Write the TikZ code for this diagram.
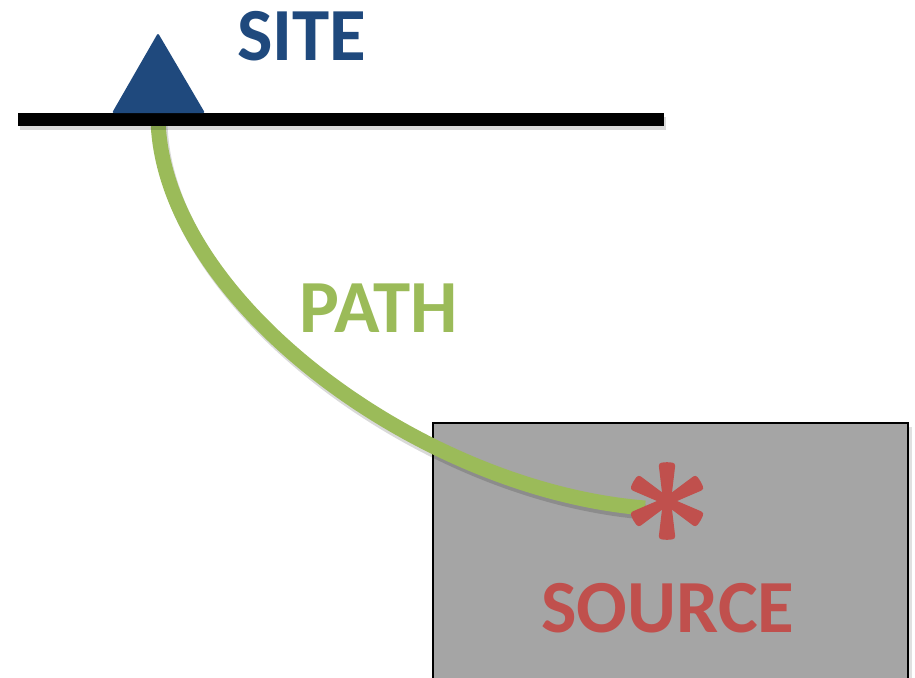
\documentclass[tikz,border=0pt]{standalone}
\usepackage{fontspec}
\setmainfont{Carlito}
\definecolor{siteblue}{HTML}{1F497D}
\definecolor{pathgreen}{HTML}{9BBB59}
\definecolor{srcred}{HTML}{C0504D}
\definecolor{boxgray}{HTML}{A5A5A5}
\tikzset{
  lbl/.style={anchor=base west, inner sep=0pt, font=\fontsize{75}{80}\selectfont\bfseries},
  ground/.style={line width=13pt, black},
  pathline/.style={line width=15pt, pathgreen},
  softshadow/.style={line width=15pt, black, opacity=0.15},
  srcbox/.style={fill=boxgray, draw=black, line width=2pt},
  armfill/.style={fill=srcred, rounded corners=3pt},
}
\begin{document}
\begin{tikzpicture}[x=1pt,y=-1pt]
\useasboundingbox (0,0) rectangle (915,677);
\clip (0,0) rectangle (915,677);
% source box (with soft shadow)
\fill[black, opacity=0.12] (437,427) rectangle (912,700);
\draw[srcbox] (433,423) rectangle (908,700);
% named points
\coordinate (gl) at (18,119);
\coordinate (gr) at (664,119);
\coordinate (sitefoot) at (158,119);
\coordinate (pathend) at (645,508);
\coordinate (star) at (667,501);
% path
\draw[softshadow] ([shift={(2,4)}]sitefoot) .. controls (164,304) and (422,494) .. ([shift={(0,4)}]pathend);
\draw[pathline] (sitefoot) .. controls (162,300) and (420,490) .. (pathend);
% ground line
\draw[ground, black, opacity=0.15] ([shift={(2,4)}]gl) -- ([shift={(2,4)}]gr);
\draw[ground] (gl) -- (gr);
% site triangle
\fill[siteblue, rounded corners=2pt] (112,113) -- (158,33) -- (205,113) -- cycle;
% asterisk
\foreach \a in {90,30,150,210,270,330}{
  \fill[armfill, rotate around={-\a:(star)}]
    ([shift={(0,-4)}]star) -- ([shift={(38,-8.5)}]star) -- ([shift={(39,0)}]star) -- ([shift={(38,8.5)}]star) -- ([shift={(0,4)}]star) -- cycle;
}
\fill[srcred] (star) circle (7pt);
% labels
\node[lbl, text=siteblue] (site) at (237,60) {SITE};
\node[lbl, text=pathgreen] (pathlbl) at (299,332) {PATH};
\node[lbl, text=srcred] (source) at (541,632) {SOURCE};
\end{tikzpicture}
\end{document}
